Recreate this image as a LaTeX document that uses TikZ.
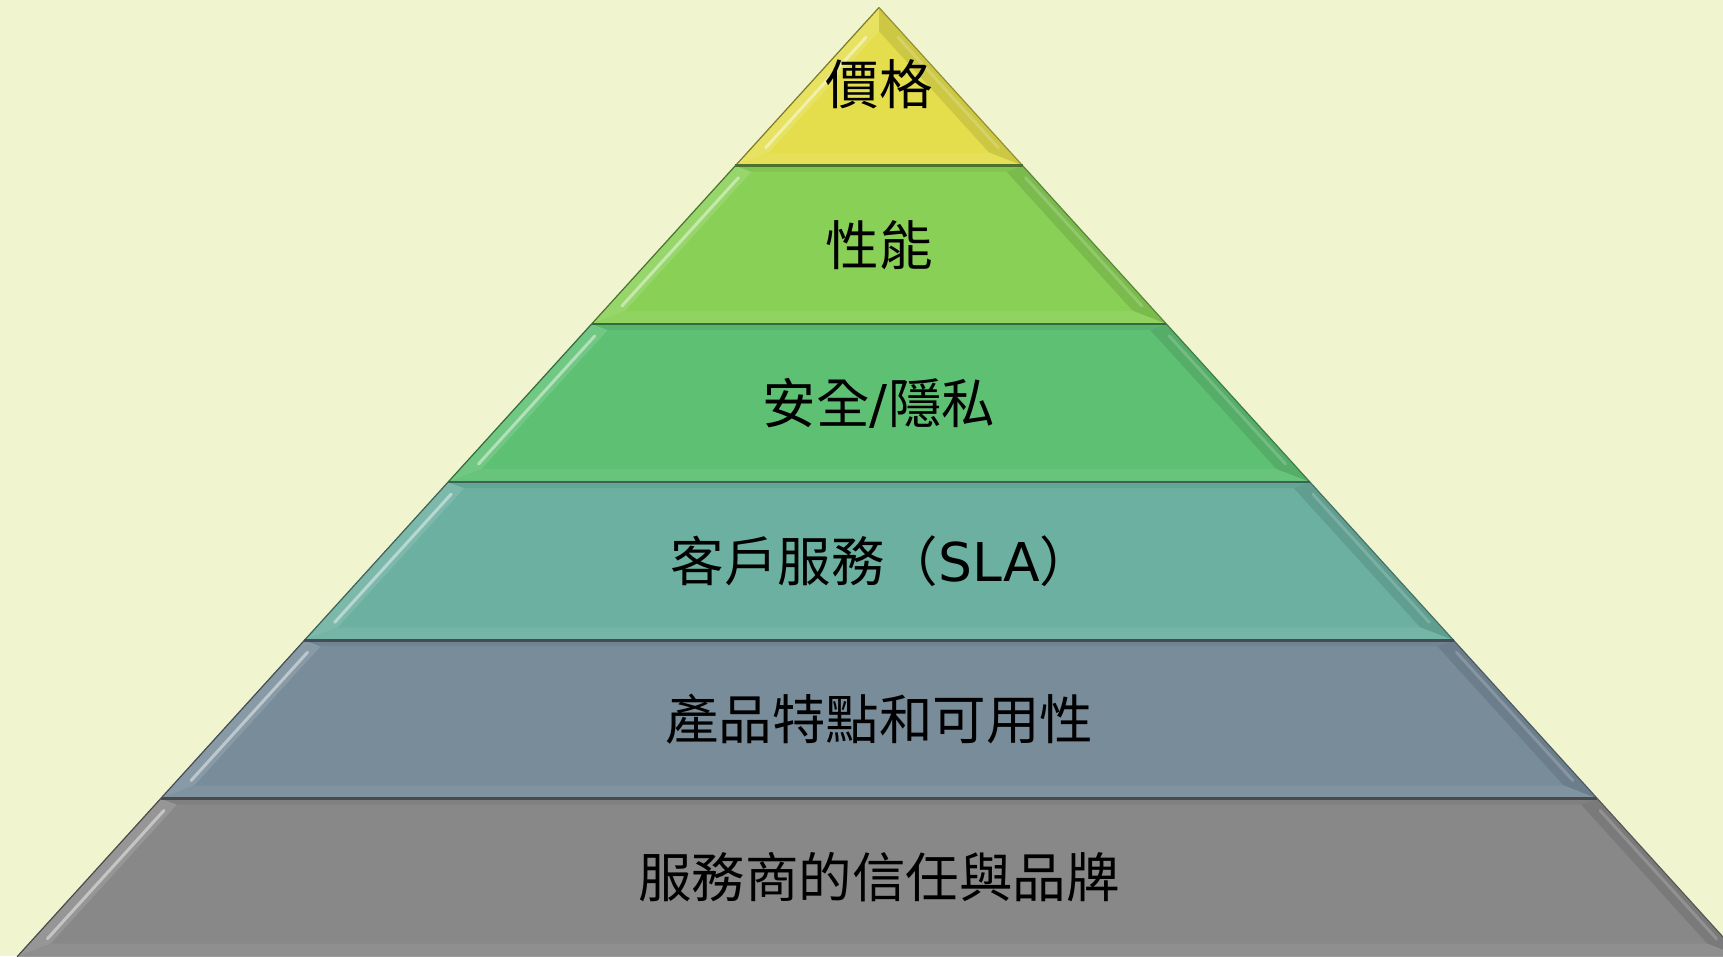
\documentclass[tikz,border=0pt]{standalone}
\usepackage{fontspec}
\newfontfamily\cjk{Noto Sans CJK TC}
\newfontfamily\lat{DejaVu Sans}
\definecolor{bgc}{RGB}{240,244,207}
\definecolor{cA}{RGB}{228,222,76}
\definecolor{cB}{RGB}{137,208,86}
\definecolor{cC}{RGB}{94,192,114}
\definecolor{cD}{RGB}{107,176,160}
\definecolor{cE}{RGB}{120,140,154}
\definecolor{cF}{RGB}{136,136,136}
\tikzset{lbl/.style={font=\cjk\fontsize{53.5}{60}\selectfont, text=black, inner sep=0pt, anchor=center}}
\begin{document}
\begin{tikzpicture}[x=1pt,y=-1pt]
\useasboundingbox (0,0) rectangle (1723,956);
\fill[bgc] (0,0) rectangle (1723,956);
\begin{scope}
\clip (0,0) rectangle (1723,956);
\foreach \i/\col in {1/cA,2/cB,3/cC,4/cD,5/cE,6/cF} {
  \pgfmathsetmacro\ya{7.5+(\i-1)*158.2}
  \pgfmathsetmacro\yb{7.5+\i*158.2}
  \pgfmathsetmacro\wa{0.908*(\ya-7.5)}
  \pgfmathsetmacro\wb{0.908*(\yb-7.5)}
  \pgfmathsetmacro\yia{\i==1 ? 7.5+21.6/0.908 : \ya+6}
  \pgfmathsetmacro\yib{\yb-13}
  \pgfmathsetmacro\wia{max(0.908*(\yia-7.5)-21.6,0)}
  \pgfmathsetmacro\wib{0.908*(\yib-7.5)-21.6}
  % main body
  \fill[\col] (879-\wa,\ya) -- (879+\wa,\ya) -- (879+\wb,\yb) -- (879-\wb,\yb) -- cycle;
  % left bevel face
  \fill[\col!88!white] (879-\wa,\ya) -- (879-\wia,\yia) -- (879-\wib,\yib) -- (879-\wb,\yb) -- cycle;
  % right bevel face
  \fill[\col!90!black] (879+\wa,\ya) -- (879+\wb,\yb) -- (879+\wib,\yib) -- (879+\wia,\yia) -- cycle;
  % bottom bevel face
  \fill[\col!94!white] (879-\wib,\yib) -- (879+\wib,\yib) -- (879+\wb,\yb) -- (879-\wb,\yb) -- cycle;
  % top bevel face
  \fill[\col!94!black] (879-\wa,\ya) -- (879+\wa,\ya) -- (879+\wia,\yia) -- (879-\wia,\yia) -- cycle;
  % highlight streak on left face
  \pgfmathsetmacro\hya{\yia+6}
  \pgfmathsetmacro\hyb{\yb-18}
  \pgfmathsetmacro\hwa{0.908*(\hya-7.5)-14}
  \pgfmathsetmacro\hwb{0.908*(\hyb-7.5)-14}
  \draw[white, opacity=0.45, line width=3pt, line cap=round] (879-\hwa,\hya) -- (879-\hwb,\hyb);
  % lighter line on right face
  \draw[white, opacity=0.18, line width=3pt, line cap=round] (879+\hwa+6,\hya) -- (879+\hwb+6,\hyb);
  % outer edges
  \draw[\col!55!black, line width=1.2pt] (879-\wa,\ya) -- (879-\wb,\yb);
  \draw[\col!65!black, line width=1.2pt] (879+\wa,\ya) -- (879+\wb,\yb);
  % top boundary shadow
  \ifnum\i>1
    \draw[\col!55!black, line width=2.5pt] (879-\wa,\ya) -- (879+\wa,\ya);
  \fi
}
\end{scope}
\node[lbl] (l1) at (879,84) {價格};
\node[lbl] (l2) at (879,245) {性能};
\node[lbl] (l3) at (879,403) {安全{\lat/}隱私};
\node[lbl] (l4) at (882,561) {客戶服務（{\lat SLA}）};
\node[lbl] (l5) at (879,719) {產品特點和可用性};
\node[lbl] (l6) at (879,877) {服務商的信任與品牌};
\end{tikzpicture}
\end{document}
